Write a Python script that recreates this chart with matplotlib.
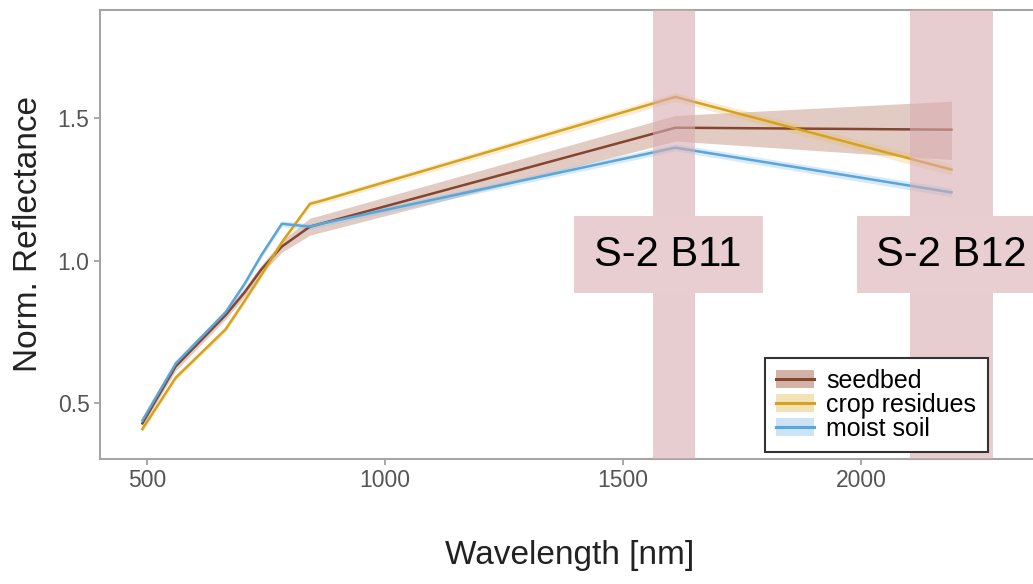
import matplotlib
matplotlib.use("Agg")
import matplotlib.pyplot as plt
from matplotlib.patches import Patch, Rectangle
from matplotlib.lines import Line2D
import numpy as np

plt.rcParams['font.family'] = ['Liberation Sans', 'DejaVu Sans']

# Sentinel-2 band centres [nm]
wavelength = [490, 560, 665, 705, 740, 783, 842, 865, 1610, 2190]

seedbed = [0.43, 0.63, 0.81, 0.89, 0.97, 1.05, 1.12, 1.13, 1.467, 1.46]
seedbed_lo = [0.42, 0.615, 0.795, 0.875, 0.955, 1.03, 1.09, 1.10, 1.42, 1.355]
seedbed_hi = [0.44, 0.645, 0.825, 0.905, 0.985, 1.07, 1.15, 1.16, 1.51, 1.56]

crop_res = [0.41, 0.59, 0.76, 0.86, 0.95, 1.065, 1.20, 1.21, 1.575, 1.32]
crop_res_lo = [0.40, 0.58, 0.75, 0.85, 0.94, 1.055, 1.19, 1.20, 1.56, 1.30]
crop_res_hi = [0.42, 0.60, 0.77, 0.87, 0.96, 1.075, 1.21, 1.22, 1.59, 1.34]

moist = [0.44, 0.64, 0.82, 0.92, 1.02, 1.13, 1.12, 1.13, 1.397, 1.24]
moist_lo = [0.43, 0.63, 0.81, 0.91, 1.01, 1.12, 1.11, 1.12, 1.385, 1.225]
moist_hi = [0.45, 0.65, 0.83, 0.93, 1.03, 1.14, 1.13, 1.14, 1.41, 1.255]

series_names = ['seedbed', 'crop residues', 'moist soil']
colors = ['#834630', '#D6A21E', '#5AA5DA']
fill_colors = ['#A0553A', '#E8C060', '#8CC4EC']

bands = ['S-2 B11', 'S-2 B12']
band_center = [1607, 2190]
band_width = [90, 175]
label_x = [1594, 2190]

fig = plt.figure(figsize=(10.33, 5.84), dpi=100)
ax = fig.add_axes([0.0968, 0.214, 0.910, 0.769])

lines = [seedbed, crop_res, moist]
los = [seedbed_lo, crop_res_lo, moist_lo]
his = [seedbed_hi, crop_res_hi, moist_hi]
alphas = [0.3, 0.3, 0.35]
handles = []
for name, y, lo, hi, c, fc, a in zip(series_names, lines, los, his, colors, fill_colors, alphas):
    ax.fill_between(wavelength, lo, hi, color=fc, alpha=a, lw=0, zorder=2)
    ax.plot(wavelength, y, color=c, lw=1.8, zorder=3)
    handles.append((Patch(facecolor=fc, alpha=0.45, edgecolor='none'),
                    Line2D([], [], color=c, lw=2.2)))

# S-2 band shading
for xc, w in zip(band_center, band_width):
    ax.axvspan(xc - w / 2, xc + w / 2, color='#D9ADB2', alpha=0.6, lw=0, zorder=4)

# band labels
for lab, xc in zip(bands, label_x):
    ax.add_patch(Rectangle((xc - 198, 0.888), 397, 0.27, facecolor='#E8CED1',
                           edgecolor='none', zorder=5))
    ax.text(xc, 1.022, lab, ha='center', va='center', fontsize=30,
            color='black', zorder=6)

ax.set_xlim(401, 2376)
ax.set_ylim(0.305, 1.88)
ax.set_xticks([500, 1000, 1500, 2000])
ax.set_yticks([0.5, 1.0, 1.5])
ax.tick_params(colors='#9A9A9A', labelcolor='#555555', labelsize=16.5, length=4, width=1.2)
for s in ax.spines.values():
    s.set_color('#A5A5A5')
    s.set_linewidth(1.5)
ax.set_xlabel('Wavelength [nm]', fontsize=24, color='#222222', labelpad=34)
ax.set_ylabel('Norm. Reflectance', fontsize=24, color='#222222', labelpad=10)

leg = ax.legend(handles, series_names, loc='lower left',
                bbox_to_anchor=(765 / 1033, (584 - 452) / 584),
                bbox_transform=fig.transFigure, borderaxespad=0,
                fontsize=18, frameon=True, fancybox=False, labelspacing=0.0,
                handlelength=1.5, handletextpad=0.5, borderpad=0.45,
                framealpha=1)
leg.get_frame().set_edgecolor('#333333')
leg.get_frame().set_linewidth(1.5)
leg.set_zorder(7)

fig.savefig('out.png', dpi=100)
